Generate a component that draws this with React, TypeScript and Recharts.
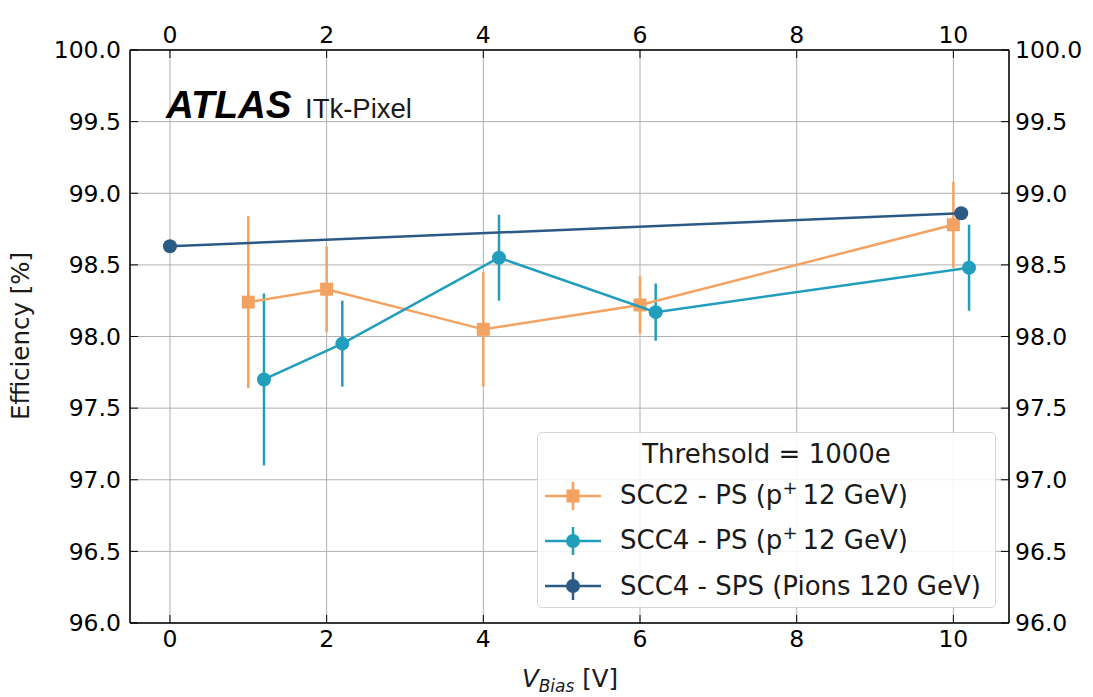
import React from 'react';
import {
  ComposedChart,
  Scatter,
  XAxis,
  YAxis,
  CartesianGrid,
  ErrorBar,
  Legend,
} from 'recharts';

// Bias voltage [V], efficiency [%] and its uncertainty for each module / beam
const scc2Bias = [1.0, 2.0, 4.0, 6.0, 10.0];
const scc2Eff = [98.24, 98.33, 98.05, 98.22, 98.78];
const scc2Err = [0.6, 0.3, 0.4, 0.2, 0.3];

const scc4PsBias = [1.2, 2.2, 4.2, 6.2, 10.2];
const scc4PsEff = [97.7, 97.95, 98.55, 98.17, 98.48];
const scc4PsErr = [0.6, 0.3, 0.3, 0.2, 0.3];

const scc4SpsBias = [0.0, 10.1];
const scc4SpsEff = [98.63, 98.86];
const scc4SpsErr = [0.01, 0.01];

const xTicks = [0, 2, 4, 6, 8, 10];
const yTicks = [96, 96.5, 97, 97.5, 98, 98.5, 99, 99.5, 100];

const legendTitle = 'Threhsold = 1000e';

const ORANGE = '#f4a261';
const TEAL = '#219ebc';
const NAVY = '#2b5b84';

const FONT = 'DejaVu Sans, sans-serif';
const LW = 2.5;

const toPoints = (xs: number[], ys: number[], es: number[]) =>
  xs.map((x, i) => ({ x, y: ys[i], err: es[i] }));

const scc2Data = toPoints(scc2Bias, scc2Eff, scc2Err);
const scc4PsData = toPoints(scc4PsBias, scc4PsEff, scc4PsErr);
const scc4SpsData = toPoints(scc4SpsBias, scc4SpsEff, scc4SpsErr);

const squareShape = (color: string) => (props: any) => {
  const { cx, cy } = props;
  if (cx == null || cy == null) return <g />;
  return <rect x={cx - 6.5} y={cy - 6.5} width={13} height={13} fill={color} />;
};

const circleShape = (color: string) => (props: any) => {
  const { cx, cy } = props;
  if (cx == null || cy == null) return <g />;
  return <circle cx={cx} cy={cy} r={7} fill={color} />;
};

type LegendEntry = { color: string; marker: 'square' | 'circle'; label: React.ReactNode };

const supStyle: React.CSSProperties = {
  fontSize: 18,
  verticalAlign: 'baseline',
  position: 'relative',
  top: -10,
};

const legendEntries: LegendEntry[] = [
  {
    color: ORANGE,
    marker: 'square',
    label: (
      <span>
        SCC2 - PS (p<sup style={supStyle}>+</sup>
        <span style={{ marginLeft: 5 }}>12 GeV)</span>
      </span>
    ),
  },
  {
    color: TEAL,
    marker: 'circle',
    label: (
      <span>
        SCC4 - PS (p<sup style={supStyle}>+</sup>
        <span style={{ marginLeft: 5 }}>12 GeV)</span>
      </span>
    ),
  },
  { color: NAVY, marker: 'circle', label: <span>SCC4 - SPS (Pions 120 GeV)</span> },
];

const LegendBox = () => (
  <div
    style={{
      position: 'relative',
      width: 459,
      height: 176,
      boxSizing: 'border-box',
      border: '1px solid #d6d6d6',
      borderRadius: 5,
      background: 'rgba(255,255,255,0.85)',
      fontFamily: FONT,
      fontSize: 26,
      color: '#1a1a1a',
    }}
  >
    <div
      style={{
        position: 'absolute',
        left: 0,
        right: 0,
        top: 21,
        transform: 'translateY(-50%)',
        textAlign: 'center',
        lineHeight: '30px',
      }}
    >
      {legendTitle}
    </div>
    {legendEntries.map((e, i) => {
      const cy = 63 + i * 45;
      return (
        <div key={i}>
          <svg
            width={60}
            height={32}
            style={{ position: 'absolute', left: 7, top: cy - 16 }}
          >
            <line x1={0} y1={16} x2={56} y2={16} stroke={e.color} strokeWidth={LW} />
            <line x1={28} y1={2} x2={28} y2={30} stroke={e.color} strokeWidth={LW} />
            {e.marker === 'square' ? (
              <rect x={21.5} y={9.5} width={13} height={13} fill={e.color} />
            ) : (
              <circle cx={28} cy={16} r={7} fill={e.color} />
            )}
          </svg>
          <div
            style={{
              position: 'absolute',
              left: 82,
              top: cy,
              transform: 'translateY(-50%)',
              lineHeight: '30px',
              whiteSpace: 'nowrap',
            }}
          >
            {e.label}
          </div>
        </div>
      );
    })}
  </div>
);

const tickStyle = { fontSize: 23.5, fontFamily: FONT, fill: '#000' };
const fmtY = (v: number) => v.toFixed(1);

export default function App() {
  return (
    <div style={{ position: 'absolute', left: 0, top: 0, width: 1093, height: 697, background: '#fff' }}>
      <ComposedChart
        width={1093}
        height={697}
        margin={{ top: 0, right: 0, bottom: 0, left: 0 }}
      >
        <CartesianGrid stroke="#b0b0b0" strokeWidth={1} />
        <XAxis
          xAxisId={0}
          dataKey="x"
          type="number"
          domain={[-0.51, 10.71]}
          allowDataOverflow
          ticks={xTicks}
          orientation="bottom"
          height={74}
          tickSize={-8}
          tickMargin={15}
          tick={tickStyle}
          tickLine={{ stroke: '#000', strokeWidth: 1 }}
          axisLine={{ stroke: '#000', strokeWidth: 1.5 }}
        />
        <XAxis
          xAxisId="top"
          dataKey="x"
          type="number"
          domain={[-0.51, 10.71]}
          allowDataOverflow
          ticks={xTicks}
          orientation="top"
          height={50}
          tickSize={-8}
          tickMargin={15}
          tick={tickStyle}
          tickLine={{ stroke: '#000', strokeWidth: 1 }}
          axisLine={{ stroke: '#000', strokeWidth: 1.5 }}
        />
        <YAxis
          yAxisId={0}
          dataKey="y"
          type="number"
          domain={[96, 100]}
          allowDataOverflow
          ticks={yTicks}
          tickFormatter={fmtY}
          orientation="left"
          width={130}
          tickSize={-8}
          tickMargin={17}
          tick={tickStyle}
          tickLine={{ stroke: '#000', strokeWidth: 1 }}
          axisLine={{ stroke: '#000', strokeWidth: 1.5 }}
        />
        <YAxis
          yAxisId="right"
          dataKey="y"
          type="number"
          domain={[96, 100]}
          allowDataOverflow
          ticks={yTicks}
          tickFormatter={fmtY}
          orientation="right"
          width={84}
          tickSize={-8}
          tickMargin={14}
          tick={tickStyle}
          tickLine={{ stroke: '#000', strokeWidth: 1 }}
          axisLine={{ stroke: '#000', strokeWidth: 1.5 }}
        />

        <Scatter
          name="SCC2 - PS"
          data={scc2Data}
          xAxisId={0}
          yAxisId={0}
          fill={ORANGE}
          line={{ stroke: ORANGE, strokeWidth: LW }}
          lineType="joint"
          shape={squareShape(ORANGE)}
          isAnimationActive={false}
        >
          <ErrorBar dataKey="err" direction="y" width={0} stroke={ORANGE} strokeWidth={LW} isAnimationActive={false} />
        </Scatter>
        <Scatter
          name="SCC4 - PS"
          data={scc4PsData}
          xAxisId={0}
          yAxisId={0}
          fill={TEAL}
          line={{ stroke: TEAL, strokeWidth: LW }}
          lineType="joint"
          shape={circleShape(TEAL)}
          isAnimationActive={false}
        >
          <ErrorBar dataKey="err" direction="y" width={0} stroke={TEAL} strokeWidth={LW} isAnimationActive={false} />
        </Scatter>
        <Scatter
          name="SCC4 - SPS"
          data={scc4SpsData}
          xAxisId={0}
          yAxisId={0}
          fill={NAVY}
          line={{ stroke: NAVY, strokeWidth: LW }}
          lineType="joint"
          shape={circleShape(NAVY)}
          isAnimationActive={false}
        >
          <ErrorBar dataKey="err" direction="y" width={0} stroke={NAVY} strokeWidth={LW} isAnimationActive={false} />
        </Scatter>

        <Legend
          layout="vertical"
          align="center"
          verticalAlign="middle"
          wrapperStyle={{ left: 537, top: 432, width: 459, height: 176 }}
          content={() => <LegendBox />}
        />
      </ComposedChart>

      <svg
        width={1093}
        height={697}
        style={{ position: 'absolute', left: 0, top: 0, pointerEvents: 'none' }}
      >
        <text x={166} y={118} fontFamily="Liberation Sans, Arial, sans-serif" fontWeight="bold" fontStyle="italic" fontSize={38.5} fill="#000">
          ATLAS
        </text>
        <text x={305} y={118} fontFamily="Liberation Sans, Arial, sans-serif" fontSize={27.5} fill="#1a1a1a">
          ITk-Pixel
        </text>
        <text
          x={0}
          y={0}
          transform="translate(29,336) rotate(-90)"
          textAnchor="middle"
          fontFamily={FONT}
          fontSize={24.5}
          fill="#1a1a1a"
        >
          Efficiency [%]
        </text>
        <text x={570} y={687} textAnchor="middle" fontFamily={FONT} fontSize={24.5} fill="#1a1a1a">
          <tspan fontStyle="italic">V</tspan>
          <tspan fontStyle="italic" fontSize={17} dy={5}>Bias</tspan>
          <tspan dy={-5}> [V]</tspan>
        </text>
      </svg>
    </div>
  );
}
